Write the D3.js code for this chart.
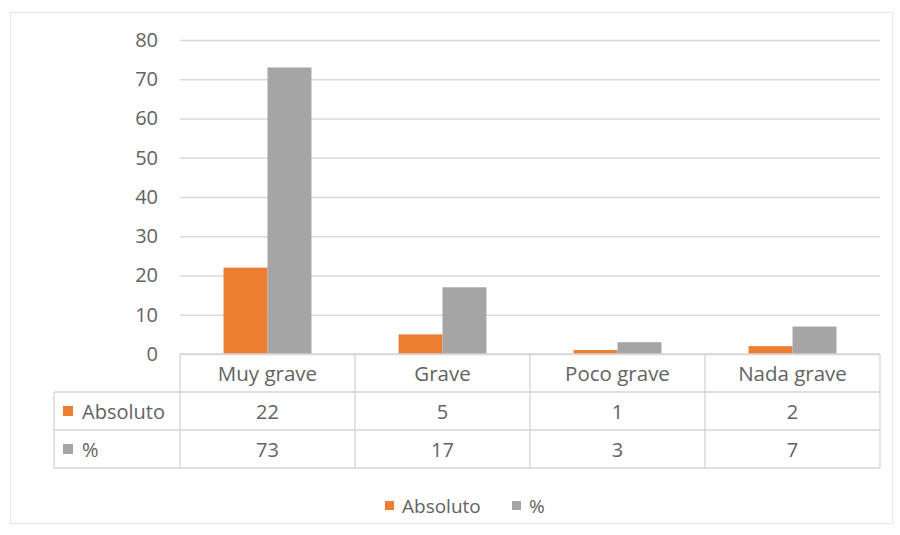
<!DOCTYPE html>
<html><head><meta charset="utf-8">
<script src="https://cdn.jsdelivr.net/npm/d3@7/dist/d3.min.js"></script>
<style>body{margin:0;background:#fff;} svg{display:block;} text{font-family:"Open Sans",sans-serif;fill:#636363;}</style>
</head><body>
<svg id="c" width="900" height="535"></svg>
<script>
const categories = ["Muy grave","Grave","Poco grave","Nada grave"];
const seriesNames = ["Absoluto","%"];
const absoluto = [22,5,1,2];
const porcentaje = [73,17,3,7];
const yTicks = [0,10,20,30,40,50,60,70,80];
const colors = ["#ED7D31","#A5A5A5"];

(function(){
const svg = d3.select("#c");
svg.append("rect").attr("x",10.5).attr("y",12.5).attr("width",882).attr("height",511)
  .attr("fill","#fff").attr("stroke","#e6e6e6");

const pL=180, pR=880, pT=40, pB=354;
const x0 = d3.scaleBand().domain(categories).range([pL,pR]).paddingInner(0).paddingOuter(0);
const x1 = d3.scaleBand().domain(seriesNames).range([0,x0.bandwidth()]).paddingInner(0).paddingOuter(0.99);
const y = d3.scaleLinear().domain([0,80]).range([pB,pT]);

const yAxis = d3.axisLeft(y).tickValues(yTicks).tickSize(-(pR-pL)).tickPadding(22);
const gy = svg.append("g").attr("transform",`translate(${pL},0)`).call(yAxis);
gy.select(".domain").remove();
gy.selectAll(".tick line").attr("stroke","#d9d9d9").attr("stroke-width",1.3);
gy.selectAll(".tick text").style("font-size","20px").attr("fill","#636363").style("font-family","'Open Sans',sans-serif");

const rows = [absoluto, porcentaje];
const g = svg.append("g");
categories.forEach((c,i)=>{
  rows.forEach((vals,s)=>{
    g.append("rect")
      .attr("x", x0(c)+x1(seriesNames[s]))
      .attr("width", x1.bandwidth())
      .attr("y", y(vals[i]))
      .attr("height", y(0)-y(vals[i]))
      .attr("fill", colors[s]);
  });
});

const rowH = [354,392,430,468];
const tl = svg.append("g").attr("stroke","#d4d4d4").attr("stroke-width",1.3).attr("fill","none");
tl.append("line").attr("x1",pL).attr("x2",pR).attr("y1",rowH[0]).attr("y2",rowH[0]);
[1,2,3].forEach(k=>tl.append("line").attr("x1",54).attr("x2",pR).attr("y1",rowH[k]).attr("y2",rowH[k]));
x0.domain().forEach(c=>tl.append("line").attr("x1",x0(c)).attr("x2",x0(c)).attr("y1",rowH[0]).attr("y2",rowH[3]));
tl.append("line").attr("x1",pR).attr("x2",pR).attr("y1",rowH[0]).attr("y2",rowH[3]);
tl.append("line").attr("x1",54).attr("x2",54).attr("y1",rowH[1]).attr("y2",rowH[3]);

categories.forEach(c=>{
  svg.append("text").attr("x",x0(c)+x0.bandwidth()/2).attr("y",(rowH[0]+rowH[1])/2)
    .attr("text-anchor","middle").attr("dominant-baseline","central").style("font-size","20.5px").text(c);
});
rows.forEach((vals,s)=>{
  const cy=(rowH[s+1]+rowH[s+2])/2;
  svg.append("rect").attr("x",63).attr("y",cy-5).attr("width",10).attr("height",10).attr("fill",colors[s]);
  svg.append("text").attr("x",82).attr("y",cy).attr("dominant-baseline","central").style("font-size","20px").text(seriesNames[s]);
  categories.forEach((c,i)=>{
    svg.append("text").attr("x",x0(c)+x0.bandwidth()/2).attr("y",cy)
      .attr("text-anchor","middle").attr("dominant-baseline","central").style("font-size","20px").text(vals[i]);
  });
});

const lg = svg.append("g");
const lx=[385,512];
seriesNames.forEach((n,s)=>{
  lg.append("rect").attr("x",lx[s]).attr("y",501).attr("width",9).attr("height",9).attr("fill",colors[s]);
  lg.append("text").attr("x",lx[s]+17).attr("y",506).attr("dominant-baseline","central").style("font-size","19px").text(n);
});
})();
</script>
</body></html>
